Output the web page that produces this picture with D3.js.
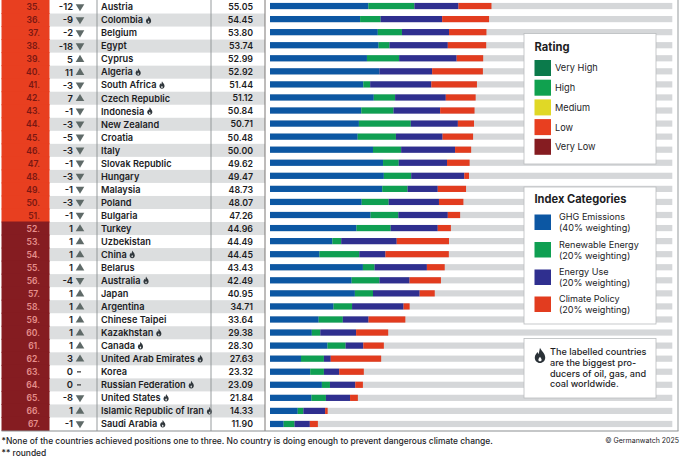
<!DOCTYPE html>
<html>
<head>
<meta charset="utf-8">
<script src="https://cdn.jsdelivr.net/npm/d3@7"></script>
<style>
html,body{margin:0;padding:0;background:#fff}
svg{display:block}
text{font-family:Inter,"Noto Sans",sans-serif;fill:#1d1d1f}
</style>
</head>
<body>
<svg id="chart" width="681" height="462"></svg>
<script>
// Climate Change Performance Index 2025, ranks 35 to 67
const ranks = d3.range(35, 68);
const countries = ["Austria","Colombia","Belgium","Egypt","Cyprus","Algeria","South Africa","Czech Republic","Indonesia","New Zealand","Croatia","Italy","Slovak Republic","Hungary","Malaysia","Poland","Bulgaria","Turkey","Uzbekistan","China","Belarus","Australia","Japan","Argentina","Chinese Taipei","Kazakhstan","Canada","United Arab Emirates","Korea","Russian Federation","United States","Islamic Republic of Iran","Saudi Arabia"];
const rankChange = [-12,-9,-2,-18,5,11,-3,7,-1,-3,-5,-3,-1,-3,-1,-3,-1,1,1,1,1,-4,1,1,1,1,1,3,0,0,-8,1,-1];
const scores = [55.05,54.45,53.80,53.74,52.99,52.92,51.44,51.12,50.84,50.71,50.48,50.00,49.62,49.47,48.73,48.07,47.26,44.96,44.49,44.45,43.43,42.49,40.95,34.71,33.64,29.38,28.30,27.63,23.32,23.09,21.84,14.33,11.90];
const producers = ["Colombia","Algeria","South Africa","Indonesia","China","Australia","Kazakhstan","Canada","United Arab Emirates","Russian Federation","United States","Islamic Republic of Iran","Saudi Arabia"];

// Sub-scores per index category
const ghgEmissions = [24.46,22.4,26.8,27.0,24.1,27.2,23.2,25.8,22.7,22.1,21.8,25.6,28.1,28.3,27.9,22.8,25.0,21.5,15.5,12.3,23.1,20.3,21.1,15.8,12.1,10.4,14.3,7.7,10.0,12.9,10.3,6.9,3.4];
const renewableEnergy = [11.44,5.1,6.0,2.7,8.0,0,1.7,5.3,8.0,12.9,9.5,7.0,3.9,6.8,6.3,6.7,6.9,8.5,2.2,9.9,2.9,6.9,4.5,4.6,6.0,2.1,4.5,5.7,3.4,2.0,3.6,1.4,2.7];
const energyUse = [10.95,15.3,11.7,14.5,14.3,13.1,15.2,12.6,11.6,11.7,11.6,13.4,12.0,13.2,7.5,12.5,12.3,11.7,13.8,6.5,13.0,7.5,11.6,12.8,6.4,8.9,4.4,1.7,3.8,6.3,6.0,5.4,3.8];
const climatePolicy = [8.2,11.65,9.3,9.54,6.59,12.62,11.34,7.42,8.54,4.01,7.58,4.0,5.62,1.17,7.03,6.07,3.06,3.26,12.99,15.75,4.43,7.79,3.75,1.51,9.14,7.98,5.1,12.53,6.12,1.89,1.94,0.63,2.0];

const ratingNames = ["Very High","High","Medium","Low","Very Low"];
const ratingColors = ["#0b7a4b","#10a14f","#e0d826","#e83f20","#851c21"];
const categoryNames = [["GHG Emissions","(40% weighting)"],["Renewable Energy","(20% weighting)"],["Energy Use","(20% weighting)"],["Climate Policy","(20% weighting)"]];
const categoryColors = ["#0c57a3","#0f9f52","#2f2f8f","#e23c1f"];
const flameNote = ["The labelled countries","are the biggest pro-","ducers of oil, gas, and","coal worldwide."];
const footnotes = ["*None of the countries achieved positions one to three. No country is doing enough to prevent dangerous climate change.","** rounded"];

const svg = d3.select("#chart");
const y = d3.scaleBand().domain(ranks).range([0.5, 430.5]).paddingInner(0);
const yBar = d3.scaleBand().domain(ranks).range([-0.5, 430.5]).paddingInner(0);
const x = d3.scaleLinear().domain([0, 100]).range([270, 672.3]);
const barH = 6.2;
const cy = r => y(r) + y.bandwidth() / 2;
const cyBar = r => yBar(r) + yBar.bandwidth() / 2;

const flame = "M0,-5.6C0.6,-3.6 3.6,-2 3.6,1.2C3.6,3.4 2,5 0,5C-2,5 -3.6,3.4 -3.6,1.2C-3.6,-0.6 -2.4,-1.4 -1.8,-2.6C-1.3,-1.9 -1.2,-1.4 -1,-1C-0.6,-2.4 -0.4,-4 0,-5.6ZM0,0.6C-0.5,1.4 -1.1,1.9 -1.1,2.7C-1.1,3.4 -0.6,3.8 0,3.8C0.6,3.8 1.1,3.4 1.1,2.7C1.1,1.9 0.4,1.4 0,0.6Z";

const rows = ranks.map((rank, i) => ({
  rank, country: countries[i], change: rankChange[i], score: scores[i],
  parts: [ghgEmissions[i], renewableEnergy[i], energyUse[i], climatePolicy[i]]
}));

// Alternating row bands behind the table columns
svg.append("g").selectAll("rect").data(rows.filter((d, i) => i % 2 === 1)).join("rect")
  .attr("x", 50).attr("width", 215).attr("y", d => y(d.rank)).attr("height", y.bandwidth())
  .attr("fill", "#dcdedf");

// Rank column coloured by rating
svg.append("g").selectAll("rect").data(rows).join("rect")
  .attr("x", 1.5).attr("width", 48).attr("y", d => y(d.rank) - 0.5).attr("height", y.bandwidth() + 1)
  .attr("fill", d => d.rank <= 51 ? ratingColors[3] : ratingColors[4]);

svg.append("g").selectAll("text").data(rows).join("text")
  .attr("x", 40).attr("y", d => cy(d.rank) + 3.2).attr("text-anchor", "end")
  .attr("font-size", 8.6).attr("font-weight", 600)
  .style("fill", d => d.rank <= 51 ? "#7a1712" : "#e58f8c")
  .text(d => d.rank + ".");

// Rank change value and direction marker
svg.append("g").selectAll("text").data(rows).join("text")
  .attr("x", 73).attr("y", d => cy(d.rank) + 3.4).attr("text-anchor", "end")
  .attr("font-size", 9.4).attr("font-weight", 600)
  .text(d => d.change);

const arrow = d3.symbol().type(d3.symbolTriangle).size(32);
svg.append("g").selectAll("path").data(rows.filter(d => d.change !== 0)).join("path")
  .attr("d", arrow)
  .attr("transform", d => `translate(80,${cy(d.rank) + (d.change > 0 ? 0.4 : -0.4)}) scale(1,${d.change > 0 ? 0.95 : -0.95})`)
  .attr("fill", "#5f6a68");
svg.append("g").selectAll("line").data(rows.filter(d => d.change === 0)).join("line")
  .attr("x1", 77).attr("x2", 81).attr("y1", d => cy(d.rank)).attr("y2", d => cy(d.rank))
  .attr("stroke", "#333").attr("stroke-width", 1.2);

// Country names with producer flame
const names = svg.append("g").selectAll("text").data(rows).join("text")
  .attr("x", 101).attr("y", d => cy(d.rank) + 3.3)
  .attr("font-size", 9.2).attr("font-weight", 600)
  .text(d => d.country);
names.each(function (d) {
  if (!producers.includes(d.country)) return;
  const w = this.getComputedTextLength();
  svg.append("path").attr("d", flame)
    .attr("transform", `translate(${101 + w + 5.5},${cy(d.rank)}) scale(0.72)`)
    .attr("fill", "#30373c").attr("fill-rule", "evenodd");
});

// Score column
svg.append("g").selectAll("text").data(rows).join("text")
  .attr("x", 253).attr("y", d => cy(d.rank) + 3.2).attr("text-anchor", "end")
  .attr("font-size", 8.8).attr("font-weight", 600)
  .text(d => d.score.toFixed(2));

// Column rules and outer frame
[[97, "#8b9092"], [211, "#8b9092"], [265, "#6d6a68"], [678, "#8b9092"]].forEach(([px, c]) => {
  svg.append("line").attr("x1", px).attr("x2", px).attr("y1", 0).attr("y2", 431)
    .attr("stroke", c).attr("stroke-width", 0.9);
});
svg.append("line").attr("x1", 1.5).attr("x2", 678.5).attr("y1", 431).attr("y2", 431)
  .attr("stroke", "#8b9092").attr("stroke-width", 1.2);

// Grey full-scale track and stacked category bars
svg.append("g").selectAll("rect").data(rows).join("rect")
  .attr("x", x(0)).attr("width", x(100) - x(0)).attr("y", d => cyBar(d.rank) - barH / 2).attr("height", barH)
  .attr("fill", "#d5d7d9");

const stack = d3.stack().keys([0, 1, 2, 3]).value((d, k) => d.parts[k]);
svg.append("g").selectAll("g").data(stack(rows)).join("g")
  .attr("fill", (s, i) => categoryColors[i])
  .selectAll("rect").data(s => s.map(p => ({ p, rank: p.data.rank }))).join("rect")
  .attr("x", d => x(d.p[0])).attr("width", d => x(d.p[1]) - x(d.p[0]))
  .attr("y", d => cyBar(d.rank) - barH / 2).attr("height", barH);

// Legend panels
function panel(top, bottom) {
  svg.append("rect").attr("x", 524).attr("y", top).attr("width", 132).attr("height", bottom - top)
    .attr("fill", "#fff").attr("stroke", "#b9bcbe").attr("stroke-width", 0.8);
}
panel(33.5, 164);
svg.append("text").attr("x", 534.5).attr("y", 51).attr("font-size", 11.2).attr("font-weight", 700).text("Rating");
ratingNames.forEach((n, i) => {
  const top = 60 + i * 19.7;
  svg.append("rect").attr("x", 534.5).attr("y", top).attr("width", 16.5).attr("height", 16).attr("fill", ratingColors[i]);
  svg.append("text").attr("x", 555).attr("y", top + 11.4).attr("font-size", 9.2).text(n);
});

panel(187, 324);
svg.append("text").attr("x", 534.5).attr("y", 203).attr("font-size", 11.1).attr("font-weight", 700).text("Index Categories");
categoryNames.forEach((n, i) => {
  const top = [214.5, 242, 269.5, 296.5][i];
  svg.append("rect").attr("x", 534.5).attr("y", top).attr("width", 16.5).attr("height", 15.5).attr("fill", categoryColors[i]);
  n.forEach((line, j) => svg.append("text").attr("x", 559).attr("y", top + 5.5 + j * 11).attr("font-size", 9.1).text(line));
});

panel(338.5, 398);
svg.append("path").attr("d", flame).attr("transform", "translate(540,355.8) scale(1.45)")
  .attr("fill", "#2b3238").attr("fill-rule", "evenodd");
flameNote.forEach((line, i) => svg.append("text").attr("x", 550).attr("y", 355 + i * 10.8).attr("font-size", 9.1).attr("font-weight", 500).text(line));

// Footnotes and credit
footnotes.forEach((line, i) => svg.append("text").attr("x", 1.5).attr("y", 443.5 + i * 12).attr("font-size", 8.45).attr("font-weight", 500).text(line));
svg.append("text").attr("x", 679).attr("y", 442.5).attr("text-anchor", "end").attr("font-size", 7).text("© Germanwatch 2025");
</script>
</body>
</html>
